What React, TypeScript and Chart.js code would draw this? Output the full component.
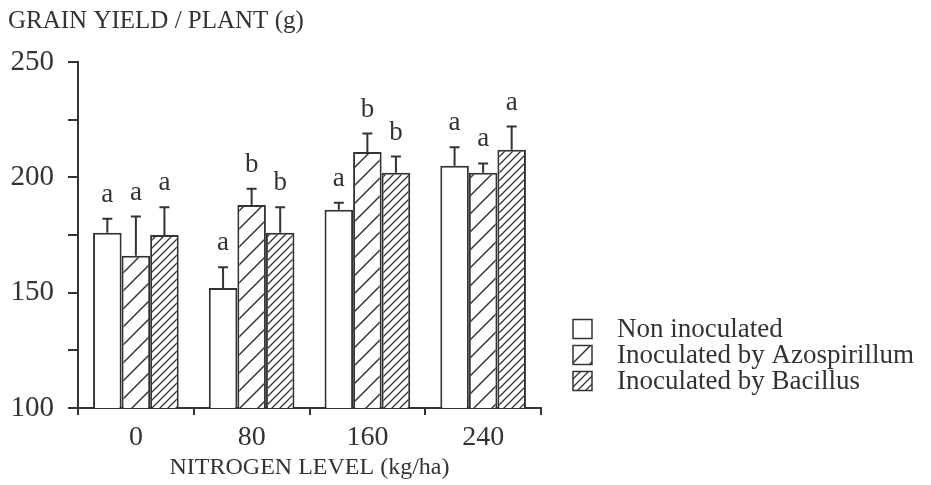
import React, { useEffect, useRef } from 'react';
import { Chart, registerables } from 'chart.js';

Chart.register(...registerables);

const categories = ['0', '80', '160', '240'];
const nonInoculated = [176, 152, 186, 205];
const azospirillum = [166, 188, 211, 202];
const bacillus = [175, 176, 202, 212];
const nonErr = [6, 9, 3, 8];
const azoErr = [17, 7, 8, 4];
const bacErr = [12, 11, 7, 10];
const nonLetters = ['a', 'a', 'a', 'a'];
const azoLetters = ['a', 'b', 'b', 'a'];
const bacLetters = ['a', 'b', 'b', 'a'];
const seriesNames = ['Non inoculated', 'Inoculated by Azospirillum', 'Inoculated by Bacillus'];
const yTicks = { min: 100, max: 250, minor: 25, major: 50 };

const INK = '#333333';
const FONT = '"Liberation Serif", "Times New Roman", serif';

function makePattern(s: number, lw: number) {
  const c = document.createElement('canvas');
  c.width = s;
  c.height = s;
  const g = c.getContext('2d')!;
  g.fillStyle = '#ffffff';
  g.fillRect(0, 0, s, s);
  g.strokeStyle = INK;
  g.lineWidth = lw;
  g.beginPath();
  for (const k of [-1, 0, 1]) {
    g.moveTo(k * s - 1, s + 1);
    g.lineTo(k * s + s + 1, -1);
  }
  g.stroke();
  return g.createPattern(c, 'repeat') as CanvasPattern;
}

const errorPlugin = {
  id: 'errorLetters',
  afterDatasetsDraw(chart: any) {
    const ctx = chart.ctx;
    const ys = chart.scales.y;
    ctx.save();
    chart.data.datasets.forEach((ds: any, i: number) => {
      const meta = chart.getDatasetMeta(i);
      meta.data.forEach((el: any, j: number) => {
        const top = ys.getPixelForValue(ds.data[j] + ds.errors[j]);
        ctx.strokeStyle = INK;
        ctx.lineWidth = 2;
        ctx.beginPath();
        ctx.moveTo(el.x, el.y);
        ctx.lineTo(el.x, top);
        ctx.moveTo(el.x - 5, top);
        ctx.lineTo(el.x + 5, top);
        ctx.stroke();
        ctx.fillStyle = INK;
        ctx.font = `27px ${FONT}`;
        ctx.textAlign = 'center';
        ctx.textBaseline = 'alphabetic';
        ctx.fillText(ds.letters[j], el.x, top - 17);
      });
    });
    ctx.restore();
  },
};

const legendPlugin = {
  id: 'customLegend',
  afterDraw(chart: any) {
    const ctx = chart.ctx;
    ctx.save();
    chart.data.datasets.forEach((ds: any, i: number) => {
      const cy = 329 + i * 26;
      const bx = 573;
      const size = 19;
      ctx.fillStyle = ds.backgroundColor;
      ctx.fillRect(bx, cy - size / 2, size, size);
      ctx.strokeStyle = INK;
      ctx.lineWidth = 1.5;
      ctx.strokeRect(bx, cy - size / 2, size, size);
      ctx.fillStyle = INK;
      ctx.font = `27px ${FONT}`;
      ctx.textAlign = 'left';
      ctx.textBaseline = 'middle';
      ctx.fillText(ds.label, 617, cy + 1);
    });
    ctx.restore();
  },
};

export default function App() {
  const ref = useRef<HTMLCanvasElement>(null);
  useEffect(() => {
    const sparse = makePattern(18, 1.5);
    const dense = makePattern(8, 1.3);
    const mk = (label: string, data: number[], errors: number[], letters: string[], bg: any) => ({
      label,
      data,
      errors,
      letters,
      backgroundColor: bg,
      borderColor: INK,
      borderWidth: 2,
      borderSkipped: false,
      categoryPercentage: 0.74,
      barPercentage: 1.0,
    });
    const chart = new Chart(ref.current!, {
      type: 'bar',
      data: {
        labels: categories,
        datasets: [
          mk(seriesNames[0], nonInoculated, nonErr, nonLetters, '#ffffff'),
          mk(seriesNames[1], azospirillum, azoErr, azoLetters, sparse),
          mk(seriesNames[2], bacillus, bacErr, bacLetters, dense),
        ] as any,
      },
      options: {
        animation: false,
        responsive: false,
        devicePixelRatio: 1,
        layout: { padding: { left: 8, right: 390, top: 0, bottom: 0 } },
        plugins: {
          legend: { display: false },
          tooltip: { enabled: false },
          title: {
            display: true,
            text: 'GRAIN YIELD / PLANT (g)',
            align: 'start',
            color: INK,
            font: { family: FONT, size: 25, weight: 'normal' },
            padding: { top: 6, bottom: 26 },
          },
        },
        scales: {
          x: {
            grid: { offset: true, drawOnChartArea: false, drawTicks: true, tickLength: 7, color: INK, lineWidth: 2 },
            border: { display: true, color: INK, width: 2 },
            ticks: { color: INK, font: { family: FONT, size: 28 }, padding: 6 },
            title: {
              display: true,
              text: 'NITROGEN LEVEL (kg/ha)',
              color: INK,
              font: { family: FONT, size: 24 },
              padding: { top: 0, bottom: 3 },
            },
            afterFit: (s: any) => { s.height = 77; },
          },
          y: {
            min: yTicks.min,
            max: yTicks.max,
            grid: { drawOnChartArea: false, drawTicks: true, tickLength: 10, color: INK, lineWidth: 2 },
            border: { display: true, color: INK, width: 2 },
            ticks: {
              stepSize: yTicks.minor,
              color: INK,
              font: { family: FONT, size: 29 },
              padding: 14,
              callback: (v: any) => (Number(v) % yTicks.major === 0 ? String(v) : ''),
            },
            afterFit: (s: any) => { s.width = 70; },
          },
        },
      } as any,
      plugins: [errorPlugin, legendPlugin],
    });
    return () => chart.destroy();
  }, []);
  return (
    <div style={{ position: 'fixed', left: 0, top: 0, width: 931, height: 485, background: '#fff' }}>
      <canvas ref={ref} width={931} height={485} />
    </div>
  );
}
